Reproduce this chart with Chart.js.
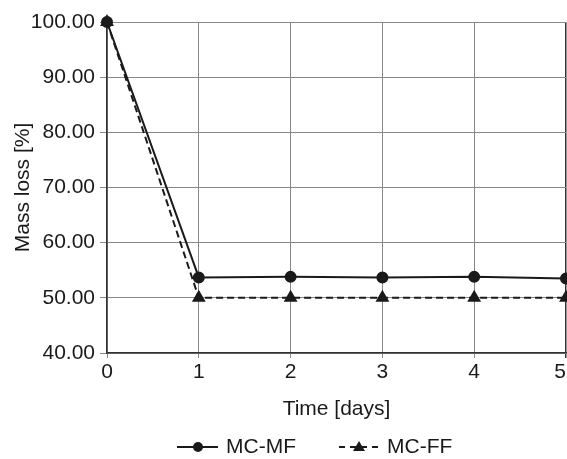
<!DOCTYPE html>
<html><head><meta charset="utf-8">
<script src="https://cdn.jsdelivr.net/npm/chart.js@4.4.0/dist/chart.umd.min.js"></script>
<style>html,body{margin:0;padding:0;background:#fff}#wrap{width:567px;height:459px}</style>
</head><body><div id="wrap"><canvas id="c" width="567" height="459"></canvas></div>
<script>
const days = [0, 1, 2, 3, 4, 5];
const mcMF = [100.0, 53.7, 53.8, 53.7, 53.8, 53.5];
const mcFF = [100.0, 50.0, 50.0, 50.0, 50.0, 50.0];
const yTicks = [40, 50, 60, 70, 80, 90, 100];
const seriesNames = ['MC-MF', 'MC-FF'];

const FONT = 'Liberation Sans, Arial, sans-serif';
const FS = 21;
const INK = '#1a1a1a';
const PLOT_RIGHT = 566;

const rightEdgePlugin = {
  id: 'rightEdge',
  afterLayout(chart) {
    const s = chart.scales.x;
    s.right = PLOT_RIGHT;
    s.width = PLOT_RIGHT - s.left;
    s.configure();
    chart.chartArea.right = PLOT_RIGHT;
    chart.chartArea.width = PLOT_RIGHT - chart.chartArea.left;
  }
};

const legendPlugin = {
  id: 'customLegend',
  afterDraw(chart) {
    const ctx = chart.ctx;
    ctx.save();
    ctx.font = FS + 'px ' + FONT;
    ctx.fillStyle = INK;
    ctx.strokeStyle = INK;
    ctx.lineWidth = 2;
    ctx.textBaseline = 'middle';
    const y = 447;
    let x0 = 177;
    ctx.setLineDash([]);
    ctx.beginPath(); ctx.moveTo(x0, y); ctx.lineTo(x0 + 41, y); ctx.stroke();
    ctx.beginPath(); ctx.arc(x0 + 21, y, 5, 0, Math.PI * 2); ctx.fill();
    ctx.fillText(seriesNames[0], x0 + 49, y);
    x0 = 339;
    ctx.setLineDash([6, 5]);
    ctx.beginPath(); ctx.moveTo(x0, y); ctx.lineTo(x0 + 42, y); ctx.stroke();
    ctx.setLineDash([]);
    ctx.beginPath();
    ctx.moveTo(x0 + 20, y - 6); ctx.lineTo(x0 + 26, y + 4); ctx.lineTo(x0 + 14, y + 4); ctx.closePath(); ctx.fill();
    ctx.fillText(seriesNames[1], x0 + 48, y);
    ctx.restore();
  }
};

new Chart(document.getElementById('c'), {
  type: 'scatter',
  data: {
    datasets: [
      {
        label: seriesNames[0],
        data: days.map((d, i) => ({x: d, y: mcMF[i]})),
        showLine: true,
        borderColor: INK, backgroundColor: INK,
        borderWidth: 2, pointStyle: 'circle', pointRadius: 5,
        clip: false
      },
      {
        label: seriesNames[1],
        data: days.map((d, i) => ({x: d, y: mcFF[i]})),
        showLine: true,
        borderColor: INK, backgroundColor: INK,
        borderWidth: 2, borderDash: [7, 4], pointStyle: 'triangle', pointRadius: 6,
        clip: false
      }
    ]
  },
  options: {
    responsive: false,
    animation: false,
    events: [],
    layout: { padding: { top: 22, right: 1, bottom: 0, left: 0 } },
    plugins: { legend: { display: false }, tooltip: { enabled: false } },
    scales: {
      x: {
        type: 'linear', min: 0, max: 5,
        afterFit(s) { s.height = 106; },
        ticks: {
          stepSize: 1, color: INK, font: { family: FONT, size: FS }, padding: 2,
          callback: v => (v === 5 ? String(v) + '\u2007' : String(v))
        },
        grid: {
          color: c => (c.tick && c.tick.value === 5 ? '#333' : '#888'),
          lineWidth: c => (c.tick && c.tick.value === 5 ? 1.5 : 1),
          tickLength: 5
        },
        border: { color: '#333', width: 1.5 },
        title: { display: true, text: 'Time [days]', color: INK, font: { family: FONT, size: FS }, padding: { top: 0, bottom: 37 } }
      },
      y: {
        min: 40, max: 100,
        afterBuildTicks(s) { s.ticks = yTicks.map(v => ({value: v})); },
        afterFit(s) { s.paddingTop = 0; s.paddingBottom = 0; s.width = 107; },
        ticks: { color: INK, font: { family: FONT, size: FS }, padding: 5, callback: v => Number(v).toFixed(2) },
        grid: { color: '#888', lineWidth: 1, tickLength: 7 },
        border: { color: '#333', width: 1.5 },
        title: { display: true, text: 'Mass loss [%]', color: INK, font: { family: FONT, size: FS }, padding: { top: 11, bottom: 11 } }
      }
    }
  },
  plugins: [rightEdgePlugin, legendPlugin]
});
</script></body></html>
